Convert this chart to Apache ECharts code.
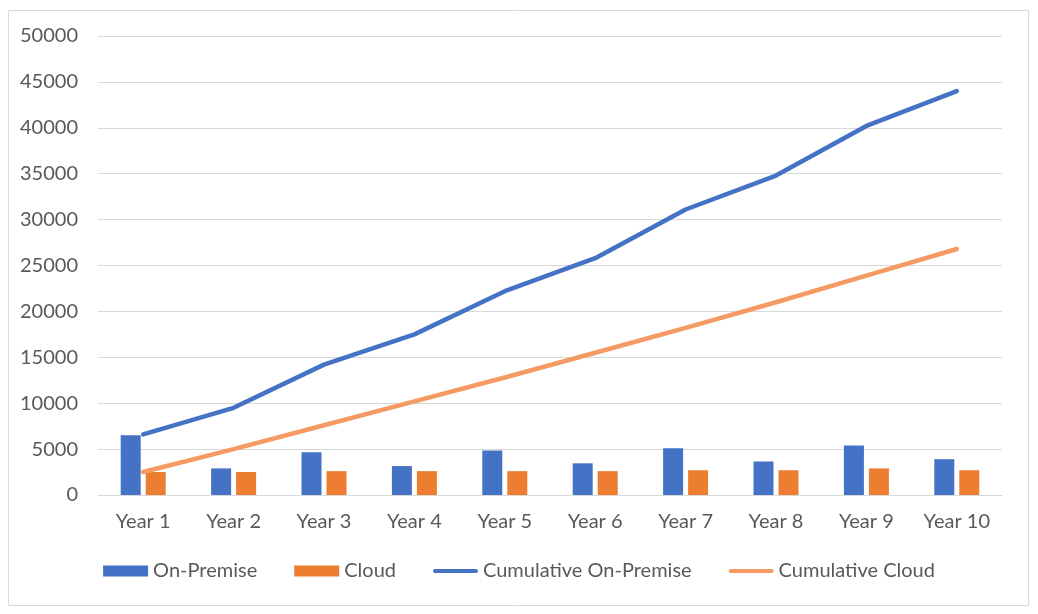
<!DOCTYPE html>
<html>
<head>
<meta charset="utf-8">
<script src="https://cdn.jsdelivr.net/npm/echarts@6/dist/echarts.min.js"></script>
<style>
html,body{margin:0;padding:0;background:#fff;}
#c{width:1038px;height:614px;}
</style>
</head>
<body>
<div id="c"></div>
<script>
const categories = ['Year 1','Year 2','Year 3','Year 4','Year 5','Year 6','Year 7','Year 8','Year 9','Year 10'];
const onPremise = [6500, 2900, 4650, 3150, 4850, 3450, 5100, 3650, 5400, 3900];
const cloud = [2500, 2500, 2600, 2600, 2600, 2600, 2700, 2700, 2900, 2700];
const cumulativeOnPremise = [6600, 9500, 14200, 17500, 22200, 25800, 31100, 34800, 40200, 44000];
const cumulativeCloud = [2500, 5000, 7600, 10200, 12800, 15500, 18200, 21000, 23900, 26800];
const yTicks = {min: 0, max: 50000, interval: 5000};

const chart = echarts.init(document.getElementById('c'));
const txt = '#595959';
const font = 'Lato, "Open Sans", sans-serif';
const lineIcon = 'path://M2,0H45A2,2 0 0 1 45,4H2A2,2 0 0 1 2,0Z';
chart.setOption({
  backgroundColor: '#fff',
  textStyle: {fontFamily: font},
  graphic: [{
    type: 'rect', shape: {x: 8.5, y: 10.5, width: 1020, height: 595},
    style: {fill: 'none', stroke: '#D9D9D9', lineWidth: 1}, silent: true, z: -1
  }],
  grid: {left: 98, right: 36, top: 36, bottom: 119, containLabel: false},
  legend: {
    bottom: 28, left: 'center', itemWidth: 45, itemHeight: 11, itemGap: 37,
    symbolKeepAspect: true,
    textStyle: {color: txt, fontSize: 20, fontFamily: font},
    data: [
      {name: 'On-Premise', icon: 'rect'},
      {name: 'Cloud', icon: 'rect'},
      {name: 'Cumulative On-Premise', icon: lineIcon},
      {name: 'Cumulative Cloud', icon: lineIcon}
    ]
  },
  xAxis: {
    type: 'category', data: categories,
    axisLine: {show: true, lineStyle: {color: '#D9D9D9', width: 1}},
    axisTick: {show: false},
    axisLabel: {color: txt, fontSize: 20, fontFamily: font, margin: 17}
  },
  yAxis: {
    type: 'value', min: yTicks.min, max: yTicks.max, interval: yTicks.interval,
    axisLine: {show: false}, axisTick: {show: false},
    splitLine: {lineStyle: {color: '#D9D9D9', width: 1}},
    axisLabel: {color: txt, fontSize: 20, fontFamily: font, margin: 20,
      formatter: v => String(v)}
  },
  series: [
    {name: 'On-Premise', type: 'bar', data: onPremise, barWidth: 20, barGap: '25%',
     itemStyle: {color: '#4472C4'}},
    {name: 'Cloud', type: 'bar', data: cloud, barWidth: 20, barGap: '25%',
     itemStyle: {color: '#ED7D31'}},
    {name: 'Cumulative On-Premise', type: 'line', data: cumulativeOnPremise,
     symbol: 'none', lineStyle: {color: '#4472C4', width: 4.5, cap: 'round'},
     itemStyle: {color: '#4472C4'}},
    {name: 'Cumulative Cloud', type: 'line', data: cumulativeCloud,
     symbol: 'none', lineStyle: {color: '#F69A64', width: 4.5, cap: 'round'},
     itemStyle: {color: '#F69A64'}}
  ],
  animation: false
});
</script>
</body>
</html>
